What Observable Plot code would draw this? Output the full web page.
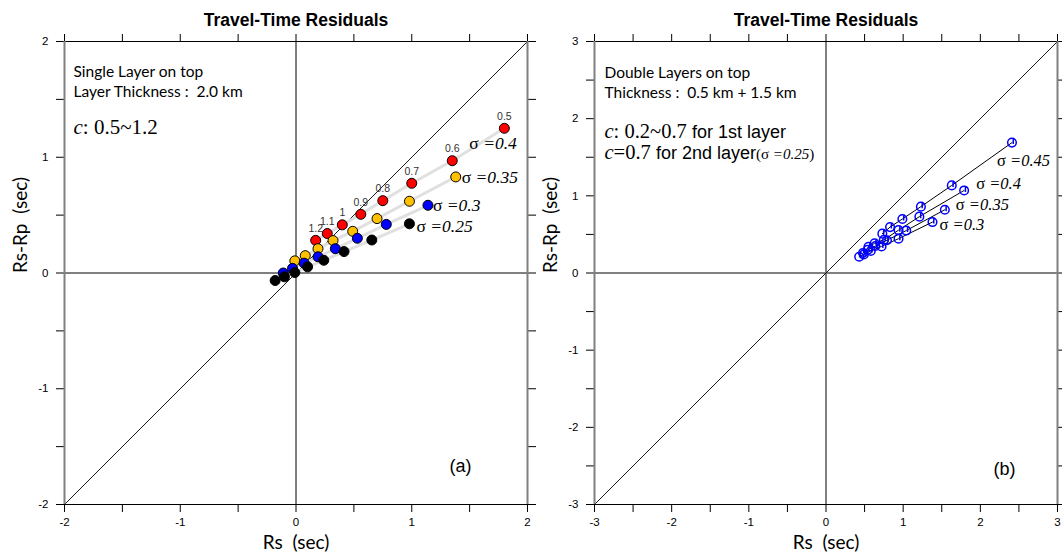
<!DOCTYPE html>
<html><head><meta charset="utf-8">
<script src="https://cdn.jsdelivr.net/npm/d3@7"></script>
<script src="https://cdn.jsdelivr.net/npm/@observablehq/plot@0.6"></script>
<style>
body{margin:0;background:#fff;}
#wrap{position:relative;width:1062px;height:555px;overflow:hidden;background:#fff;}
#pa,#pb{position:absolute;top:0;}
#pa{left:0}
#pb{left:530px}
svg{overflow:visible}
</style></head><body><div id="wrap"><div id="pa"></div><div id="pb"></div></div>
<script>
// ---------- Panel (a) data ----------
const titleText = "Travel-Time Residuals";
const ticksA = [-2,-1.5,-1,-0.5,0,0.5,1,1.5,2];
const cLabelsA = ["0.5","0.6","0.7","0.8","0.9","1","1.1","1.2"];
const sigmaA = ["0.4","0.35","0.3","0.25"];
const colorsA = ["#ff0000","#ffc000","#0000ff","#000000"];
const xA_040 = [1.80,1.35,1.00,0.75,0.56,0.40,0.27,0.17];
const yA_040 = [1.25,0.97,0.775,0.625,0.507,0.416,0.341,0.282];
const xA_035 = [1.38,0.98,0.70,0.49,0.32,0.19,0.08,-0.01];
const yA_035 = [0.83,0.62,0.47,0.36,0.28,0.21,0.15,0.105];
const xA_030 = [1.14,0.78,0.53,0.34,0.19,0.07,-0.03,-0.11];
const yA_030 = [0.585,0.42,0.30,0.21,0.14,0.085,0.04,0.00];
const xA_025 = [0.98,0.655,0.415,0.24,0.10,-0.01,-0.10,-0.18];
const yA_025 = [0.425,0.285,0.185,0.11,0.053,0.004,-0.033,-0.065];

// ---------- Panel (b) data ----------
const ticksB = [-3,-2.5,-2,-1.5,-1,-0.5,0,0.5,1,1.5,2,2.5,3];
const sigmaB = ["0.45","0.4","0.35","0.3"];
const xB_045 = [2.41,1.63,1.23,0.99,0.83,0.73];
const yB_045 = [1.69,1.135,0.86,0.70,0.595,0.51];
const xB_040 = [1.79,1.21,0.94,0.75,0.63,0.55];
const yB_040 = [1.07,0.73,0.555,0.43,0.385,0.34];
const xB_035 = [1.54,1.04,0.79,0.64,0.54,0.48];
const yB_035 = [0.82,0.55,0.425,0.35,0.30,0.26];
const xB_030 = [1.38,0.94,0.72,0.58,0.49,0.43];
const yB_030 = [0.66,0.445,0.345,0.285,0.24,0.21];

// ---------- build tables ----------
const seriesA = [[xA_040,yA_040],[xA_035,yA_035],[xA_030,yA_030],[xA_025,yA_025]];
const rowsA = [];
seriesA.forEach(([xs,ys],i)=>xs.forEach((x,j)=>rowsA.push({x, y: ys[j], sigma: sigmaA[i], k: j, c: cLabelsA[j]})));
const seriesB = [[xB_045,yB_045],[xB_040,yB_040],[xB_035,yB_035],[xB_030,yB_030]];
const rowsB = [];
seriesB.forEach(([xs,ys],i)=>xs.forEach((x,j)=>rowsB.push({x, y: ys[j], sigma: sigmaB[i], k: j})));

const SANS = "Liberation Sans, Arial, sans-serif";
const SERIF = "Liberation Serif, Times New Roman, serif";
const CAL = "Lato, Open Sans, sans-serif";

const intFmt = d => Math.abs(d - Math.round(d)) < 1e-9 ? String(Math.round(d)) : "";
const noFmt = () => "";

function frameMarks(ticks, dom) {
  return [
    Plot.axisX(ticks, {anchor:"bottom", tickSize:8, tickPadding:5, tickFormat:intFmt, fontSize:11.5, fontFamily:SANS, label:null}),
    Plot.axisX(ticks, {anchor:"top", tickSize:8, tickFormat:noFmt, label:null}),
    Plot.axisY(ticks, {anchor:"left", tickSize:8, tickPadding:8, tickFormat:intFmt, fontSize:11.5, fontFamily:SANS, label:null}),
    Plot.axisY(ticks, {anchor:"right", tickSize:8, tickFormat:noFmt, label:null}),
    Plot.ruleY(dom, {stroke:"black", strokeWidth:1.2}),
    Plot.ruleX(dom, {stroke:"#808080", strokeWidth:2}),
    Plot.text([titleText], {frameAnchor:"top", dy:-21, lineAnchor:"middle", fontWeight:"bold", fontSize:17.5, fontFamily:SANS}),
    Plot.text(["Rs\u00a0 (sec)"], {frameAnchor:"bottom", dy:38, lineAnchor:"middle", fontSize:19, fontFamily:CAL}),
    Plot.text(["Rs-Rp\u00a0 (sec)"], {frameAnchor:"left", dx:-44, rotate:-90, lineAnchor:"middle", fontSize:19, fontFamily:CAL})
  ];
}

function sigmaText(rows, s, dx, dy, size) {
  return Plot.text(rows.filter(d => d.sigma === s && d.k === 0),
    {x:"x", y:"y", text: d => "σ =" + d.sigma, dx, dy, textAnchor:"start", lineAnchor:"middle", fontSize:size, fontFamily:SERIF});
}

// ---------- Panel (a) ----------
const plotA = Plot.plot({
  width:540, height:555, marginLeft:64, marginRight:13, marginTop:41, marginBottom:51,
  x:{domain:[-2,2], axis:null}, y:{domain:[-2,2], axis:null},
  color:{domain:sigmaA, range:colorsA},
  style:{background:"transparent", overflow:"visible"},
  marks:[
    Plot.ruleY([0], {stroke:"black", strokeWidth:1}),
    Plot.ruleX([0], {stroke:"black", strokeWidth:1}),
    Plot.line([ticksA[0], ticksA[ticksA.length-1]], {x:d=>d, y:d=>d, stroke:"black", strokeWidth:0.9}),
    Plot.line(rowsA, {x:"x", y:"y", z:"sigma", stroke:"#e0e0e0", strokeWidth:3}),
    Plot.dot(rowsA, {x:"x", y:"y", fill:"sigma", stroke:"black", strokeWidth:1, r:5}),
    Plot.text(rowsA.filter(d=>d.sigma===sigmaA[0]), {x:"x", y:"y", text:"c", dy:-12, fontSize:10.5, fill:"#333", fontFamily:SANS}),
    sigmaText(rowsA, "0.4", -35, 15, 17.5),
    sigmaText(rowsA, "0.35", 6, 0, 17.5),
    sigmaText(rowsA, "0.3", 5, 0, 17.5),
    sigmaText(rowsA, "0.25", 7, 3, 17.5),
    Plot.text(["Single Layer on top"], {frameAnchor:"top-left", dx:9, dy:31, textAnchor:"start", lineAnchor:"middle", fontSize:15.5, fontFamily:CAL}),
    Plot.text(["Layer Thickness :\u00a0 2.0 km"], {frameAnchor:"top-left", dx:9, dy:51, textAnchor:"start", lineAnchor:"middle", fontSize:15.5, fontFamily:CAL}),
    Plot.text(["c: 0.5~1.2"], {frameAnchor:"top-left", dx:9, dy:86, textAnchor:"start", lineAnchor:"middle", fontSize:21, fontFamily:SERIF}),
    Plot.text(["(a)"], {frameAnchor:"bottom-right", dx:-56, dy:-38, lineAnchor:"middle", fontSize:18, fontFamily:SANS}),
    ...frameMarks(ticksA, [ticksA[0], ticksA[ticksA.length-1]])
  ]
});

// custom marker: open circle with a small inner stroke
const tickCircle = {
  draw(ctx, size) {
    const r = Math.sqrt(size / Math.PI);
    ctx.moveTo(r, 0);
    ctx.arc(0, 0, r, 0, 2 * Math.PI);
    ctx.moveTo(r * 0.3, r * 0.35);
    ctx.lineTo(r * 0.3, -r * 0.8);
  }
};

// ---------- Panel (b) ----------
const plotB = Plot.plot({
  width:532, height:555, marginLeft:64, marginRight:5, marginTop:41, marginBottom:51,
  x:{domain:[-3,3], axis:null}, y:{domain:[-3,3], axis:null},
  style:{background:"transparent", overflow:"visible"},
  marks:[
    Plot.ruleY([0], {stroke:"black", strokeWidth:1}),
    Plot.ruleX([0], {stroke:"#808080", strokeWidth:2}),
    Plot.line([ticksB[0], ticksB[ticksB.length-1]], {x:d=>d, y:d=>d, stroke:"black", strokeWidth:0.9}),
    Plot.line(rowsB, {x:"x", y:"y", z:"sigma", stroke:"black", strokeWidth:1}),
    Plot.dot(rowsB, {x:"x", y:"y", symbol:tickCircle, r:4.3, stroke:"#0000ff", strokeWidth:1.5, fill:"none"}),
    sigmaText(rowsB, "0.45", -15, 18, 16.5),
    sigmaText(rowsB, "0.4", 12, -7, 16.5),
    sigmaText(rowsB, "0.35", 11, -5, 16.5),
    sigmaText(rowsB, "0.3", 7, 3, 16.5),
    Plot.text(["Double Layers on top"], {frameAnchor:"top-left", dx:10, dy:32, textAnchor:"start", lineAnchor:"middle", fontSize:15.5, fontFamily:CAL}),
    Plot.text(["Thickness :\u00a0 0.5 km + 1.5 km"], {frameAnchor:"top-left", dx:10, dy:52, textAnchor:"start", lineAnchor:"middle", fontSize:15.5, fontFamily:CAL}),
    Plot.text(["c: 0.2~0.7 for 1st layer"], {frameAnchor:"top-left", dx:10, dy:90, textAnchor:"start", lineAnchor:"middle", fontSize:20.5, fontFamily:SERIF}),
    Plot.text(["c=0.7 for 2nd layer(σ =0.25)"], {frameAnchor:"top-left", dx:10, dy:111, textAnchor:"start", lineAnchor:"middle", fontSize:20.5, fontFamily:SERIF}),
    Plot.text(["(b)"], {frameAnchor:"bottom-right", dx:-42, dy:-35, lineAnchor:"middle", fontSize:18, fontFamily:SANS}),
    ...frameMarks(ticksB, [ticksB[0], ticksB[ticksB.length-1]])
  ]
});

// Rich text formatting (italic variables, mixed fonts)
const IT = s => `<tspan font-style="italic">${s}</tspan>`;
const SA = s => `<tspan font-family="${SANS}" font-size="18">${s}</tspan>`;
function richify(svg) {
  d3.select(svg).selectAll("text").each(function() {
    const t = this.textContent;
    let h = null;
    if (t === "c: 0.5~1.2") h = IT("c") + ": 0.5~1.2";
    else if (t === "c: 0.2~0.7 for 1st layer") h = IT("c") + ": 0.2~0.7 " + SA("for 1st layer");
    else if (t === "c=0.7 for 2nd layer(σ =0.25)") h = IT("c") + "=0.7 " + SA("for 2nd layer") + `<tspan font-size="15">(σ ${IT("=0.25")})</tspan>`;
    else if (/^σ =/.test(t)) h = "σ " + IT(t.slice(2));
    if (h !== null) this.innerHTML = h;
  });
}
richify(plotA); richify(plotB);
document.getElementById("pa").appendChild(plotA);
document.getElementById("pb").appendChild(plotB);
</script></body></html>
